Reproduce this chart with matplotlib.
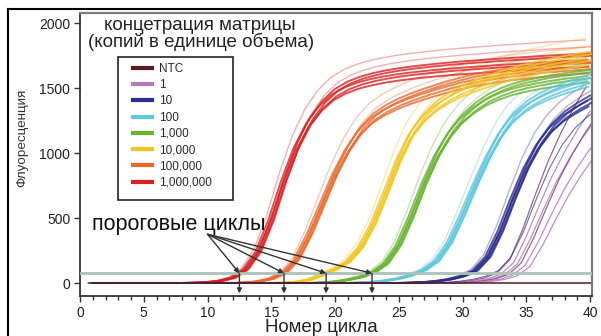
import numpy as np
import matplotlib
matplotlib.use('Agg')
import matplotlib.pyplot as plt
from matplotlib.lines import Line2D
from matplotlib.patches import Rectangle

plt.rcParams['font.family'] = ['Liberation Sans', 'DejaVu Sans']

# cycle numbers and one representative curve per concentration
cycles = np.arange(1, 41)
ntc = [0] * 40
red = [0, 0, 0, 0, 0, 0, 0, 0, 2, 6,
       16, 40, 105, 240, 480, 780, 1040, 1230, 1360, 1450,
       1505, 1542, 1568, 1588, 1604, 1617, 1628, 1638, 1647, 1655,
       1662, 1669, 1676, 1682, 1688, 1694, 1700, 1705, 1710, 1715]
orange = [0] * 12 + [3, 12, 32, 75, 180, 370, 600, 830,
                     1020, 1165, 1265, 1330, 1378, 1418, 1452, 1483, 1512, 1538,
                     1560, 1578, 1594, 1608, 1620, 1630, 1640, 1648, 1655, 1662]
yellow = [0] * 15 + [2, 8, 25, 62, 105,
                     160, 270, 450, 690, 940, 1140, 1270, 1360, 1425, 1475,
                     1515, 1550, 1582, 1610, 1635, 1657, 1677, 1695, 1712, 1728]
green = [0] * 18 + [3, 10,
                    24, 45, 80, 150, 290, 510, 760, 975, 1140, 1260,
                    1345, 1410, 1455, 1490, 1515, 1535, 1552, 1567, 1580, 1592]
cyan = [0] * 21 + [3, 8, 18, 34, 60, 100, 170, 310, 520,
                   750, 960, 1140, 1270, 1355, 1415, 1460, 1497, 1528, 1556]
blue = [0] * 25 + [2, 6, 14, 28, 52,
                   95, 200, 400, 650, 880, 1060, 1190, 1280, 1345, 1400]
purple = [0] * 28 + [2, 6,
                     14, 30, 60, 140, 320, 530, 730, 900, 1050, 1180]

labels = ['NTC', '1', '10', '100', '1,000', '10,000', '100,000', '1,000,000']
colors = ['#5a1a22', '#b57ab8', '#2b2f8f', '#5ec6df', '#68b32f', '#f2c521', '#ea6a2e', '#d9201f']

# replicate spread (cycle shift, plateau factor)
rep_shift = [-0.25, -0.12, 0.0, 0.1, 0.22]
rep_scale = [1.0, 0.97, 1.03, 0.99, 1.02]
pale_shift = [-0.35, 0.15]
pale_scale = [1.09, 1.06]
purple_shift = [-0.3, 0.0, 0.3, 0.6, 0.9, 1.3]
purple_scale = [1.28, 1.12, 1.05, 1.1, 0.97, 0.92]

threshold = 75
ct_marks = [12.5, 16.0, 19.3, 22.9]

W, H = 601, 336
fig = plt.figure(figsize=(W / 100, H / 100), dpi=100)
ax = fig.add_axes([80 / W, 1 - 296 / H, (592 - 80) / W, (296 - 13) / H])

groups = [red, orange, yellow, green, cyan, blue]
gcolors = colors[7:1:-1]

# purple (1 copy) thin scattered replicates
for i, (s, k) in enumerate(zip(purple_shift, purple_scale)):
    c = colors[1] if i % 3 else '#8a4a80'
    ax.plot(cycles + s, np.array(purple) * k, color=c, lw=0.9, alpha=0.85, zorder=2)

for curve, c in zip(groups, gcolors):
    y = np.array(curve)
    for s, k in zip(pale_shift, pale_scale):
        ax.plot(cycles + s, y * k, color=c, lw=1.0, alpha=0.35, zorder=2)
    for s, k in zip(rep_shift, rep_scale):
        ax.plot(cycles + s, y * k, color=c, lw=1.4, alpha=0.8, zorder=3)

# extra late blue replicate
ax.plot(cycles + 1.8, np.array(blue), color=colors[2], lw=0.8, alpha=0.7, zorder=2)

# NTC baseline
ax.plot(cycles, ntc, color=colors[0], lw=1.4, alpha=0.8, zorder=3.5)

ax.axhline(threshold, color='#a9c2ba', lw=2, zorder=4)

# threshold cycle arrows
for ct in ct_marks:
    ax.annotate('', xy=(ct, threshold), xytext=(10.0, 375),
                arrowprops=dict(arrowstyle='-|>', color='#333333', lw=1.0,
                                mutation_scale=7, shrinkA=0, shrinkB=0), zorder=5)
    ax.annotate('', xy=(ct, -80), xytext=(ct, threshold),
                arrowprops=dict(arrowstyle='-|>', color='#333333', lw=1.0,
                                mutation_scale=7, shrinkA=0, shrinkB=0), zorder=5)
ax.text(0.94, 408, 'пороговые циклы', fontsize=15.5, color='#111111', va='baseline')

ax.set_xlim(0, 40.15)
ax.set_ylim(-100, 2077)
ax.set_xticks(range(0, 41, 5))
ax.set_xticks(range(0, 41), minor=True)
ax.set_yticks([0, 500, 1000, 1500, 2000])
ax.tick_params(axis='both', which='major', length=4, width=1, labelsize=10,
               colors='#333333', labelcolor='#222222', pad=3)
ax.tick_params(axis='x', which='minor', length=3, width=1, colors='#333333')
for side in ['left', 'bottom']:
    ax.spines[side].set_color('#333333')
    ax.spines[side].set_linewidth(1.3)
for side in ['top', 'right']:
    ax.spines[side].set_color('#7a7a7a')
    ax.spines[side].set_linewidth(1.6)

# legend: title above, framed box below
fig.text(200 / W, 1 - 25 / H, 'концетрация матрицы', fontsize=13.5,
         ha='center', va='center', color='#222222')
fig.text(201 / W, 1 - 42 / H, '(копий в единице объема)', fontsize=13.5,
         ha='center', va='center', color='#222222')
fig.patches.append(Rectangle((118 / W, 1 - 200 / H), 115 / W, 143 / H,
                             transform=fig.transFigure, fill=True, facecolor='white',
                             edgecolor='#222222', lw=1.2, zorder=5))
handles = [Line2D([], [], color=c, lw=3) for c in colors]
leg = fig.legend(handles, labels, loc='upper left', bbox_to_anchor=(133 / W, 1 - 63 / H),
                 frameon=False, fontsize=8.5, handlelength=1.6, handletextpad=0.6,
                 labelspacing=0.36, borderpad=0, borderaxespad=0)
leg.set_zorder(6)
for t in leg.get_texts():
    t.set_color('#2a2a2a')

fig.text(22 / W, 1 - 138 / H, 'Флуоресценция', rotation=90, fontsize=9.7,
         ha='center', va='center', color='#333333')
fig.text(321 / W, 1 - 327 / H, 'Номер цикла', fontsize=13.4,
         ha='center', va='center', color='#222222')

# outer frame of the original figure (top and left edges visible)
fig.add_artist(Line2D([8 / W, 1], [1 - 9 / H, 1 - 9 / H], color='black', lw=1.5))
fig.add_artist(Line2D([8 / W, 8 / W], [0, 1 - 9 / H], color='black', lw=1.5))

fig.savefig('out.png', dpi=100)
